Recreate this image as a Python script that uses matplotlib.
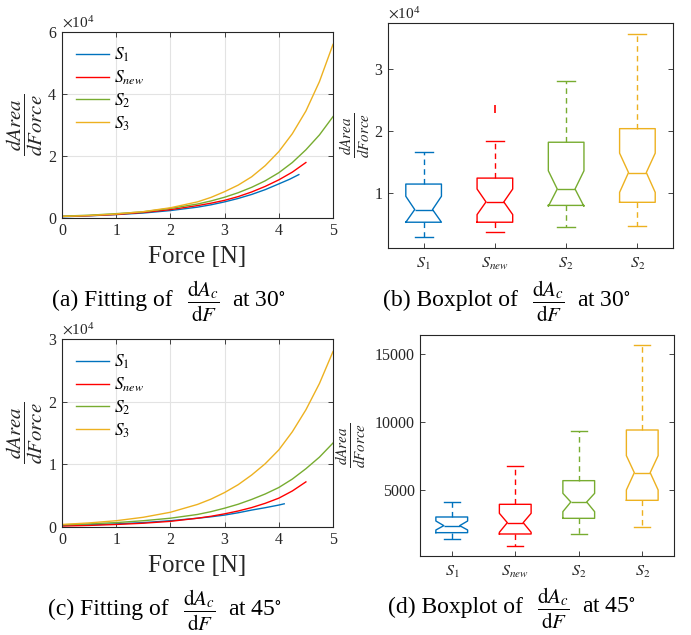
import numpy as np
import matplotlib
matplotlib.use("Agg")
import matplotlib.pyplot as plt

plt.rcParams['font.family'] = ['Liberation Serif', 'DejaVu Serif']
plt.rcParams['mathtext.fontset'] = 'stix'

# colours (MATLAB defaults, S_new in pure red)
c_s1 = '#0072BD'
c_new = '#FF0000'
c_s2 = '#77AC30'
c_s3 = '#EDB120'
colors = [c_s1, c_new, c_s2, c_s3]

# ---- fitted curves ----
force_full = [0, 0.5, 1, 1.5, 2, 2.5, 2.75, 3, 3.25, 3.5, 3.75, 4, 4.25, 4.5, 4.75, 5]
force_new = [0, 0.5, 1, 1.5, 2, 2.5, 2.75, 3, 3.25, 3.5, 3.75, 4, 4.25, 4.5]
force_s1_30 = [0, 0.5, 1, 1.5, 2, 2.5, 2.75, 3, 3.25, 3.5, 3.75, 4, 4.2, 4.37]
force_s1_45 = [0, 0.5, 1, 1.5, 2, 2.5, 2.75, 3, 3.25, 3.5, 3.75, 4, 4.1]

# 30 deg
f30_s3 = [500, 800, 1280, 2050, 3300, 5200, 6650, 8500, 10600, 13300, 16900, 21400, 27200, 34500, 44000, 56000]
f30_s2 = [600, 900, 1400, 2000, 3100, 4500, 5500, 6700, 8150, 9900, 12000, 14600, 17900, 22000, 26800, 32700]
f30_new = [500, 750, 1150, 1800, 2700, 4000, 4780, 5700, 6900, 8400, 10200, 12300, 14800, 17900]
f30_s1 = [400, 700, 1100, 1600, 2400, 3500, 4260, 5200, 6300, 7600, 9150, 11000, 12500, 14000]

# 45 deg
f45_s3 = [400, 650, 1000, 1550, 2350, 3600, 4450, 5500, 6750, 8300, 10100, 12300, 15200, 18700, 22900, 28000]
f45_s2 = [350, 500, 700, 1000, 1400, 2000, 2450, 3000, 3630, 4400, 5270, 6300, 7650, 9300, 11150, 13400]
f45_new = [150, 250, 400, 600, 900, 1400, 1710, 2100, 2550, 3100, 3780, 4600, 5750, 7200]
f45_s1 = [250, 350, 500, 700, 1000, 1400, 1630, 1900, 2270, 2700, 3080, 3500, 3700]

legend_labels = [r'$S_1$', r'$S_{new}$', r'$S_2$', r'$S_3$']
box_labels = [r'$S_1$', r'$S_{new}$', r'$S_2$', r'$S_2$']

# ---- boxplot stats: whislo, q1, cilo, med, cihi, q3, whishi ----
box30_whislo = [2830, 3740, 4490, 4650]
box30_q1 = [5290, 5290, 8000, 8500]
box30_cilo = [5290, 6520, 7850, 10100]
box30_med = [7330, 8560, 10640, 13300]
box30_cihi = [9470, 10640, 13580, 16420]
box30_q3 = [11440, 12400, 18180, 20370]
box30_whishi = [16580, 18450, 28130, 35670]
box30_fliers = [[], [23500], [], []]

box45_whislo = [1421, 882, 1765, 2304]
box45_q1 = [1887, 1789, 2941, 4265]
box45_cilo = [2083, 1912, 3431, 5025]
box45_med = [2402, 2622, 4142, 6299]
box45_cihi = [2745, 3309, 4779, 7549]
box45_q3 = [3039, 3971, 5711, 9436]
box45_whishi = [4118, 6765, 9387, 15686]
box45_fliers = [[], [], [], []]

tick_col = '#262626'

fig = plt.figure(figsize=(6.91, 6.35), dpi=100)


def caption(x0, y0, left, right):
    # "(x) ... of  dA_c/dF  at NN deg" built from three chained pieces
    t1 = fig.text(x0, y0, left, ha='left', va='center', fontsize=17)
    frac = plt.annotate(r'$\dfrac{\mathrm{d}A_c}{\mathrm{d}F}$', xy=(1, 0.45), xycoords=t1,
                        xytext=(10, 0), textcoords='offset points',
                        ha='left', va='center', fontsize=15, annotation_clip=False)
    plt.annotate(right, xy=(1, 0.5), xycoords=frac, xytext=(9, 0),
                 textcoords='offset points', ha='left', va='center',
                 fontsize=17, annotation_clip=False)


def style_axes(ax):
    for sp in ax.spines.values():
        sp.set_color(tick_col)
        sp.set_linewidth(0.8)
    ax.tick_params(direction='in', length=3.5, width=0.6, colors=tick_col,
                   labelsize=11.5, top=True, right=True)


def fit_panel(rect, curves, ymax, yticks):
    ax = fig.add_axes(rect)
    for (x, y), col, lab in zip(curves, colors, legend_labels):
        ax.plot(x, y, color=col, lw=1.0, label=lab)
    ax.set_xlim(0, 5)
    ax.set_ylim(0, ymax)
    ax.set_xticks([0, 1, 2, 3, 4, 5])
    ax.set_yticks(yticks)
    ax.grid(True, color='#e3e3e3', lw=0.8)
    ax.set_axisbelow(True)
    style_axes(ax)
    ax.ticklabel_format(axis='y', style='sci', scilimits=(0, 0), useMathText=True)
    ax.yaxis.get_offset_text().set_fontsize(11)
    ax.yaxis.get_offset_text().set_color(tick_col)
    ax.set_xlabel('Force [N]', fontsize=18, color=tick_col, labelpad=5)
    ax.set_ylabel(r'$\dfrac{dArea}{dForce}$', fontsize=15, color=tick_col)
    ax.yaxis.set_label_coords(-0.063, 0.5)
    ax.legend(loc='upper left', frameon=False, fontsize=12.5, handlelength=1.9,
              handletextpad=0.3, labelspacing=0.25, borderaxespad=0.4)
    return ax


def box_panel(rect, stats, fliers, ylim, yticks, sci, lab_x):
    ax = fig.add_axes(rect)
    whislo, q1, cilo, med, cihi, q3, whishi = stats
    for i in range(4):
        st = [dict(whislo=whislo[i], q1=q1[i], cilo=cilo[i], med=med[i],
                   cihi=cihi[i], q3=q3[i], whishi=whishi[i], fliers=fliers[i])]
        col = colors[i]
        ax.bxp(st, positions=[i + 1], widths=0.5, shownotches=True,
               boxprops=dict(color=col, lw=1.0),
               medianprops=dict(color=col, lw=1.0),
               whiskerprops=dict(color=col, lw=1.0, linestyle=(0, (4, 3))),
               capprops=dict(color=col, lw=1.0),
               flierprops=dict(marker='|', markeredgecolor=col, markersize=6,
                               markeredgewidth=1.2))
    ax.set_xlim(0.5, 4.5)
    ax.set_ylim(*ylim)
    ax.set_yticks(yticks)
    ax.set_xticks([1, 2, 3, 4])
    ax.set_xticklabels(box_labels, fontsize=13.5)
    style_axes(ax)
    ax.tick_params(axis='x', top=False, pad=6)
    if sci:
        ax.ticklabel_format(axis='y', style='sci', scilimits=(0, 0), useMathText=True)
        ax.yaxis.get_offset_text().set_fontsize(11)
        ax.yaxis.get_offset_text().set_color(tick_col)
    ax.set_ylabel(r'$\frac{dArea}{dForce}$', fontsize=15.5, color=tick_col)
    ax.yaxis.set_label_coords(lab_x, 0.5)
    return ax


curves30 = [(force_s1_30, f30_s1), (force_new, f30_new),
            (force_full, f30_s2), (force_full, f30_s3)]
curves45 = [(force_s1_45, f45_s1), (force_new, f45_new),
            (force_full, f45_s2), (force_full, f45_s3)]

fit_panel([0.0897, 0.6567, 0.3922, 0.2929], curves30, 60000, [0, 20000, 40000, 60000])
fit_panel([0.0897, 0.1701, 0.3922, 0.2960], curves45, 30000, [0, 10000, 20000, 30000])

box_panel([0.5615, 0.6094, 0.4125, 0.3544],
          (box30_whislo, box30_q1, box30_cilo, box30_med, box30_cihi, box30_q3, box30_whishi),
          box30_fliers, (1130, 37400), [10000, 20000, 30000], True, -0.056)
box_panel([0.6078, 0.1244, 0.3676, 0.3480],
          (box45_whislo, box45_q1, box45_cilo, box45_med, box45_cihi, box45_q3, box45_whishi),
          box45_fliers, (170, 16420), [5000, 10000, 15000], False, -0.205)

caption(52 / 691, 0.527, '(a) Fitting of', 'at 30$^{\\circ}$')
caption(383 / 691, 0.527, '(b) Boxplot of', 'at 30$^{\\circ}$')
caption(48 / 691, 0.040, '(c) Fitting of', 'at 45$^{\\circ}$')
caption(388 / 691, 0.044, '(d) Boxplot of', 'at 45$^{\\circ}$')

fig.savefig('out.png', dpi=100)
